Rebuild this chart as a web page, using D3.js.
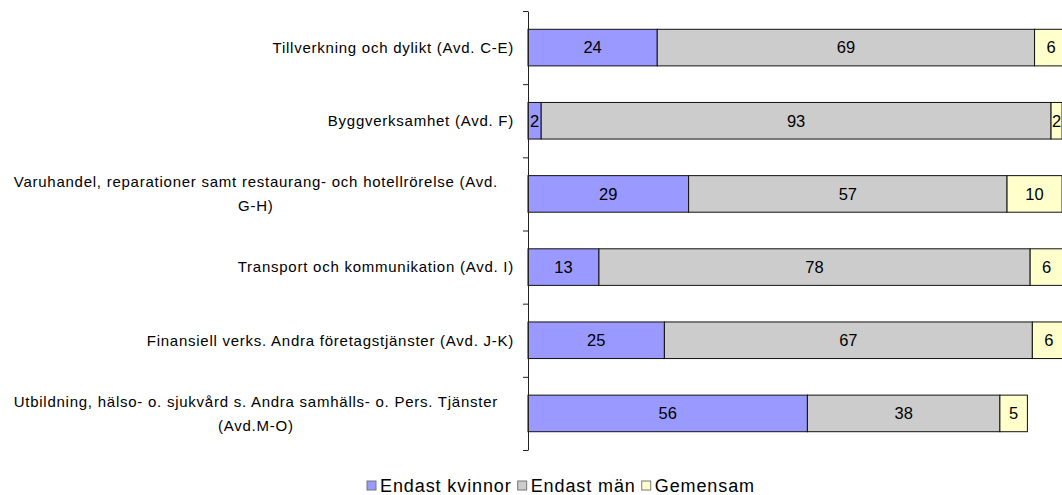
<!DOCTYPE html>
<html>
<head>
<meta charset="utf-8">
<script src="https://cdn.jsdelivr.net/npm/d3@7"></script>
<style>
  html, body { margin: 0; padding: 0; background: #fff; }
  svg { display: block; font-family: "Liberation Sans", Arial, sans-serif; }
</style>
</head>
<body>
<svg id="chart" width="1062" height="495"></svg>
<script>
// ---- data ----
const categories = [
  "Tillverkning och dylikt (Avd. C-E)",
  "Byggverksamhet (Avd. F)",
  "Varuhandel, reparationer samt restaurang- och hotellrörelse (Avd.\nG-H)",
  "Transport och kommunikation (Avd. I)",
  "Finansiell verks. Andra företagstjänster (Avd. J-K)",
  "Utbildning, hälso- o. sjukvård s. Andra samhälls- o. Pers. Tjänster\n(Avd.M-O)"
];
const seriesNames = ["Endast kvinnor", "Endast män", "Gemensam"];
// bar lengths as drawn in the picture
const kvinnor  = [23.5, 2.4, 29.2, 12.9, 24.8, 50.8];
const man      = [68.6, 92.7, 57.9, 78.4, 66.9, 35.0];
const gemensam = [6, 2, 10, 6, 6, 5];
// printed data labels
const kvinnorLabels  = ["24", "2", "29", "13", "25", "56"];
const manLabels      = ["69", "93", "57", "78", "67", "38"];
const gemensamLabels = ["6", "2", "10", "6", "6", "5"];
const colors = ["#9999FF", "#CCCCCC", "#FFFFCC"];

// ---- build ----
const svg = d3.select("#chart");
const series = [kvinnor, man, gemensam];
const labels = [kvinnorLabels, manLabels, gemensamLabels];

const x = d3.scaleLinear().domain([0, 100]).range([528, 1078]);
const y = d3.scaleBand().domain(categories).range([11, 450]).paddingInner(0.5).paddingOuter(0.25);
const yIdx = d3.scaleLinear().domain([0, categories.length]).range([11, 450]);

// bars
categories.forEach((cat, i) => {
  let cum = 0;
  series.forEach((s, k) => {
    const x0 = x(cum), x1 = x(cum + s[i]);
    svg.append("rect")
      .attr("x", x0).attr("y", y(cat))
      .attr("width", x1 - x0).attr("height", y.bandwidth())
      .attr("fill", colors[k]).attr("stroke", "#111").attr("stroke-width", 1);
    svg.append("text")
      .attr("x", (x0 + x1) / 2).attr("y", y(cat) + y.bandwidth() / 2)
      .attr("dy", "0.35em").attr("text-anchor", "middle")
      .attr("font-size", 16.5).attr("fill", "#000")
      .text(labels[k][i]);
    cum += s[i];
  });
});

// axis
const axis = d3.axisLeft(yIdx).tickValues(d3.range(categories.length + 1)).tickFormat("").tickSize(5).tickSizeOuter(0);
const ag = svg.append("g").attr("transform", "translate(528,0)").call(axis);
ag.selectAll("path,line").attr("stroke", "#222");

// category labels
categories.forEach(cat => {
  const lines = cat.split("\n");
  const cy = y(cat) + y.bandwidth() / 2;
  const lh = 24;
  const g = svg.append("g");
  const texts = lines.map((ln, j) => g.append("text")
    .attr("y", cy + (j - (lines.length - 1) / 2) * lh)
    .attr("dy", "0.35em").attr("font-size", 15).attr("letter-spacing", 0.75)
    .attr("fill", "#000").text(ln));
  if (lines.length === 1) {
    texts[0].attr("x", 514).attr("text-anchor", "end");
  } else {
    const w = d3.max(texts, t => t.node().getComputedTextLength());
    texts.forEach(t => t.attr("x", 498 - w / 2).attr("text-anchor", "middle"));
  }
});

// legend
const lg = svg.append("g");
let lx = 367;
seriesNames.forEach((name, k) => {
  lg.append("rect").attr("x", lx).attr("y", 481).attr("width", 9).attr("height", 9)
    .attr("fill", colors[k]).attr("stroke", "#777").attr("stroke-width", 1);
  const t = lg.append("text").attr("x", lx + 13).attr("y", 492)
    .attr("font-size", 18).attr("letter-spacing", 0.9).attr("fill", "#000").text(name);
  lx += 13 + t.node().getComputedTextLength() + 6;
});
</script>
</body>
</html>
